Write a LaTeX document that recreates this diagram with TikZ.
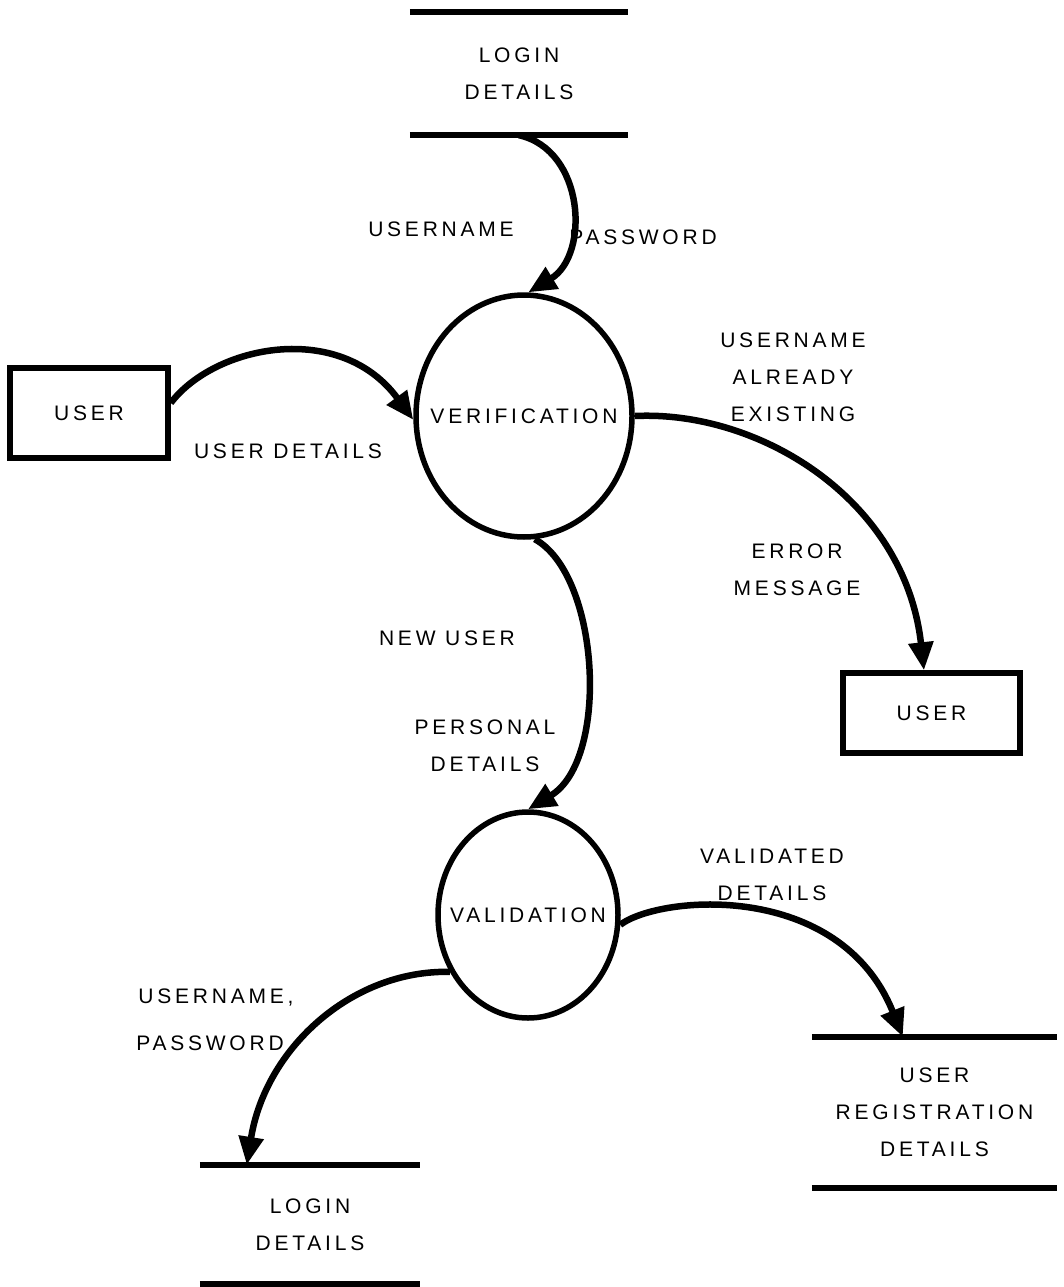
\documentclass[tikz,border=0pt]{standalone}
\usepackage{fontspec}
\setmainfont{Liberation Sans}[LetterSpace=18]
\usetikzlibrary{arrows.meta,calc,shapes.geometric}
\begin{document}
\begin{tikzpicture}[x=1pt,y=-1pt,
  every node/.style={font=\fontsize{21}{37}\selectfont, inner sep=0pt, align=center},
  process/.style={draw, ellipse, line width=5.5pt},
  entity/.style={draw, rectangle, line width=5.5pt},
  store/.style={rectangle},
  storeline/.style={line width=6pt},
  flow/.style={line width=6.5pt, -{Triangle[length=28pt,width=24pt]}},
  lbl/.style={}
]
\useasboundingbox (0,0) rectangle (1063,1287);

% processes (outline sized independently of the name inside)
\node[process, minimum width=216pt, minimum height=242pt,
      label={[name=verifname]center:VERIFICATION}] (verif) at (524,416) {};
\node[process, minimum width=180pt, minimum height=206pt,
      label={[name=validname]center:VALIDATION}] (valid) at (528,915) {};

% external entities
\node[entity, minimum width=158pt, minimum height=90pt] (user1) at (89,413) {USER};
\node[entity, minimum width=177pt, minimum height=80pt] (user2) at (931.5,713) {USER};

% data stores
\node[store, minimum width=218pt, minimum height=123pt] (ldtop) at (519,73.5) {LOGIN\\DETAILS};
\node[store, minimum width=220pt, minimum height=119pt] (ldbot) at (310,1224.5) {LOGIN\\DETAILS};
\node[store, minimum width=245pt, minimum height=151pt] (urd) at (934.5,1112.5) {USER\\REGISTRATION\\DETAILS};
\foreach \s in {ldtop,ldbot,urd}{
  \draw[storeline] (\s.north west) -- (\s.north east);
  \draw[storeline] (\s.south west) -- (\s.south east);
}

% flow labels
\node[lbl] (l1) at (441,229) {USERNAME};
\node[lbl] (l2) at (643,237) {PASSWORD};
\node[lbl] (l3) at (288,451) {USER DETAILS};
\node[lbl] (l4) at (793,377) {USERNAME\\ALREADY\\EXISTING};
\node[lbl] (l5) at (797,570) {ERROR\\MESSAGE};
\node[lbl] (l6) at (447,638) {NEW USER};
\node[lbl] (l7) at (485,746) {PERSONAL\\DETAILS};
\node[lbl] (l8) at (772,875) {VALIDATED\\DETAILS};
\node[lbl] (l9) at (216,997) {USERNAME,};
\node[lbl] (l10) at (210,1043) {PASSWORD};

% data flows
\coordinate (tipA) at ($(ldbot.north west)+(47,0)$);
\coordinate (tipB) at ($(urd.north west)+(91,0)$);
\draw[flow] (ldtop.south) .. controls (585,150) and (590,255) .. (verif.88);
\draw[flow] (user1.7) .. controls (215,345) and (340,320) .. (verif.182);
\draw[flow] (verif.east) .. controls (760,410) and (905,500) .. (user2.100);
\draw[flow] (verif.-85) .. controls (600,575) and (610,760) .. (valid.north);
\draw[flow] (valid.-6) .. controls (660,895) and (840,880) .. (tipB);
\draw[flow] (valid.-144) .. controls (350,970) and (265,1050) .. (tipA);
\end{tikzpicture}
\end{document}
